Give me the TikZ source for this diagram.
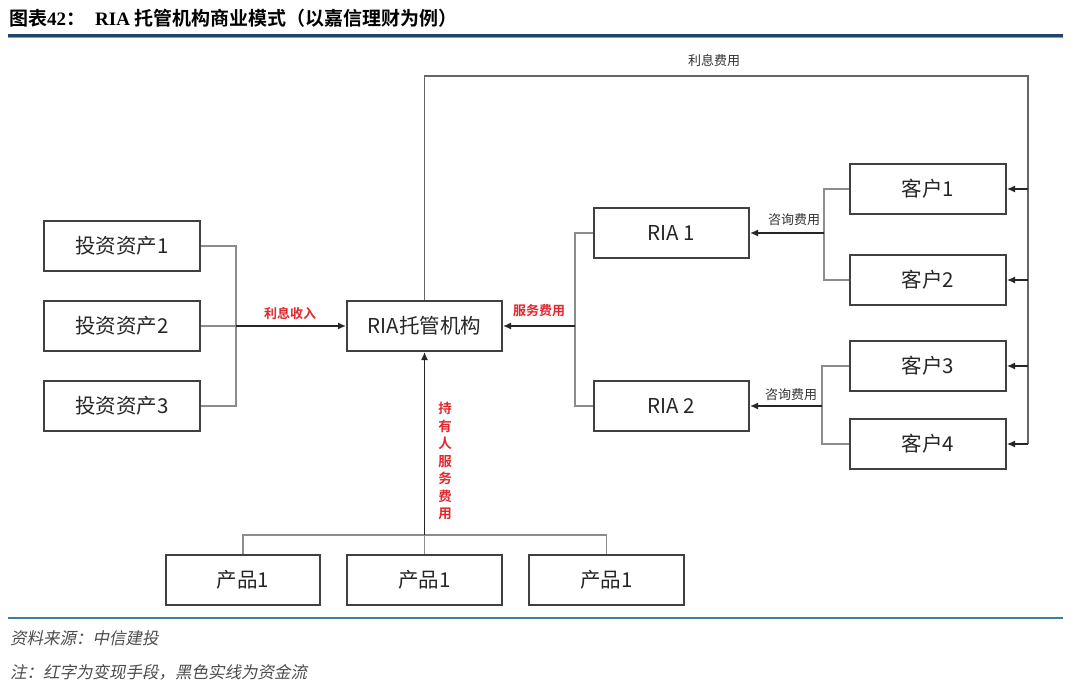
\documentclass[tikz,border=0pt]{standalone}
\usepackage{fontspec}
\setmainfont{Noto Sans CJK SC}
\newfontfamily\cjkbold{Noto Sans CJK SC Bold}
\newfontfamily\serifbold{Liberation Serif}[Scale=1]
\newfontfamily\footfont{Noto Sans CJK SC}[FakeSlant=0.2]
\usetikzlibrary{arrows.meta}
\definecolor{boxline}{HTML}{404040}
\definecolor{branch}{HTML}{8C8C8C}
\definecolor{flow}{HTML}{262626}
\definecolor{redlab}{HTML}{E0282E}
\definecolor{titleblue}{HTML}{1F4466}
\definecolor{lightblue}{HTML}{6FA8D6}
\definecolor{footline}{HTML}{3F7F99}
\tikzset{
  box/.style={draw=boxline, line width=2pt, minimum width=155pt, minimum height=50pt, inner sep=0pt, font=\fontsize{20.5}{22}\selectfont, text=black!85},
  br/.style={draw=branch, line width=1.3pt},
  fl/.style={draw=flow, line width=1.5pt, -{Latex[length=8pt,width=7pt]}},
  redl/.style={text=redlab, font=\fontsize{13}{15}\selectfont\cjkbold},
  greyl/.style={text=black!80, font=\fontsize{13}{15}\selectfont},
}
\begin{document}
\begin{tikzpicture}[x=1pt,y=-1pt]
\path[use as bounding box, fill=white] (0,0) rectangle (1080,691);
% title
\node[anchor=west, inner sep=0pt, font=\fontsize{19}{21}\selectfont] (title) at (9,18)
  {{\cjkbold 图表}{\serifbold\bfseries 42}{\cjkbold ：}\hspace{10pt}{\serifbold\bfseries RIA} {\cjkbold 托管机构商业模式（以嘉信理财为例）}};
\draw[titleblue, line width=3pt] (8,35) coordinate (tl1) -- (1063,35) coordinate (tl2);
\draw[lightblue, line width=1pt] (8,37.5) coordinate (tl3) -- (1063,37.5) coordinate (tl4);
% boxes
\node[box, minimum width=156pt] (a1) at (122,246) {投资资产1};
\node[box, minimum width=156pt] (a2) at (122,326) {投资资产2};
\node[box, minimum width=156pt] (a3) at (122,406) {投资资产3};
\node[box] (c) at (424.5,326) {RIA托管机构};
\node[box] (r1) at (671.5,233) {RIA 1};
\node[box] (r2) at (671.5,406) {RIA 2};
\node[box, minimum width=156pt] (k1) at (928,189) {客户1};
\node[box, minimum width=156pt] (k2) at (928,280) {客户2};
\node[box, minimum width=156pt] (k3) at (928,366) {客户3};
\node[box, minimum width=156pt] (k4) at (928,444) {客户4};
\node[box, minimum width=154pt] (p1) at (243,580) {产品1};
\node[box] (p2) at (424.5,580) {产品1};
\node[box] (p3) at (606.5,580) {产品1};
% left branch
\coordinate (lj) at (236,326);
\draw[br] (a1.east) -| (lj) |- (a3.east);
\draw[br] (a2.east) -- (lj);
\draw[fl] (lj) -- (c.west);
\node[redl] (l1) at (290,314) {利息收入};
% RIA branch
\coordinate (rj) at (575,326);
\draw[br] (r1.west) -| (rj) |- (r2.west);
\draw[fl] (rj) -- (c.east);
\node[redl] (l2) at (539,311) {服务费用};
% customers 1-2
\coordinate (kj1) at (824,233);
\draw[br] (k1.west) -| (kj1) |- (k2.west);
\draw[fl] (kj1) -- (r1.east);
\node[greyl] (l3) at (794,220) {咨询费用};
% customers 3-4
\coordinate (kj2) at (822,406);
\draw[br] (k3.west) -| (kj2) |- (k4.west);
\draw[fl] (kj2) -- (r2.east);
\node[greyl] (l4) at (791,395) {咨询费用};
% top loop
\coordinate (t1) at (424.5,76);
\coordinate (t2) at (1028,76);
\coordinate (t3) at (1028,189);
\coordinate (t4) at (1028,280);
\coordinate (t5) at (1028,366);
\coordinate (t6) at (1028,444);
\draw[br, draw=black!60] (c.north) -- (t1) -- (t2) -- (t6);
\draw[br, -{Latex[length=8pt,width=7pt]}, draw=flow] (t3) -- (k1.east);
\draw[br, -{Latex[length=8pt,width=7pt]}, draw=flow] (t4) -- (k2.east);
\draw[br, -{Latex[length=8pt,width=7pt]}, draw=flow] (t5) -- (k3.east);
\draw[br, -{Latex[length=8pt,width=7pt]}, draw=flow] (t6) -- (k4.east);
\node[greyl] (l5) at (714,61) {利息费用};
% bottom branch
\coordinate (bj) at (424.5,535);
\draw[br] (p1.north) |- (bj) -| (p3.north);
\draw[br] (p2.north) -- (bj);
\draw[fl] (bj) -- (c.south);
\node[redl, align=center, font=\fontsize{13.5}{17.5}\selectfont\cjkbold] (l6) at (445,461) {持\\有\\人\\服\\务\\费\\用};
% footer
\draw[footline, line width=1.6pt] (8,618) coordinate (fl1) -- (1063,618) coordinate (fl2);
\node[anchor=west, inner sep=0pt, text=black!70, font=\fontsize{16.5}{18}\selectfont\footfont] (f1) at (10,638) {资料来源：中信建投};
\node[anchor=west, inner sep=0pt, text=black!70, font=\fontsize{16.5}{18}\selectfont\footfont] (f2) at (10,672) {注：红字为变现手段，黑色实线为资金流};
\end{tikzpicture}
\end{document}
